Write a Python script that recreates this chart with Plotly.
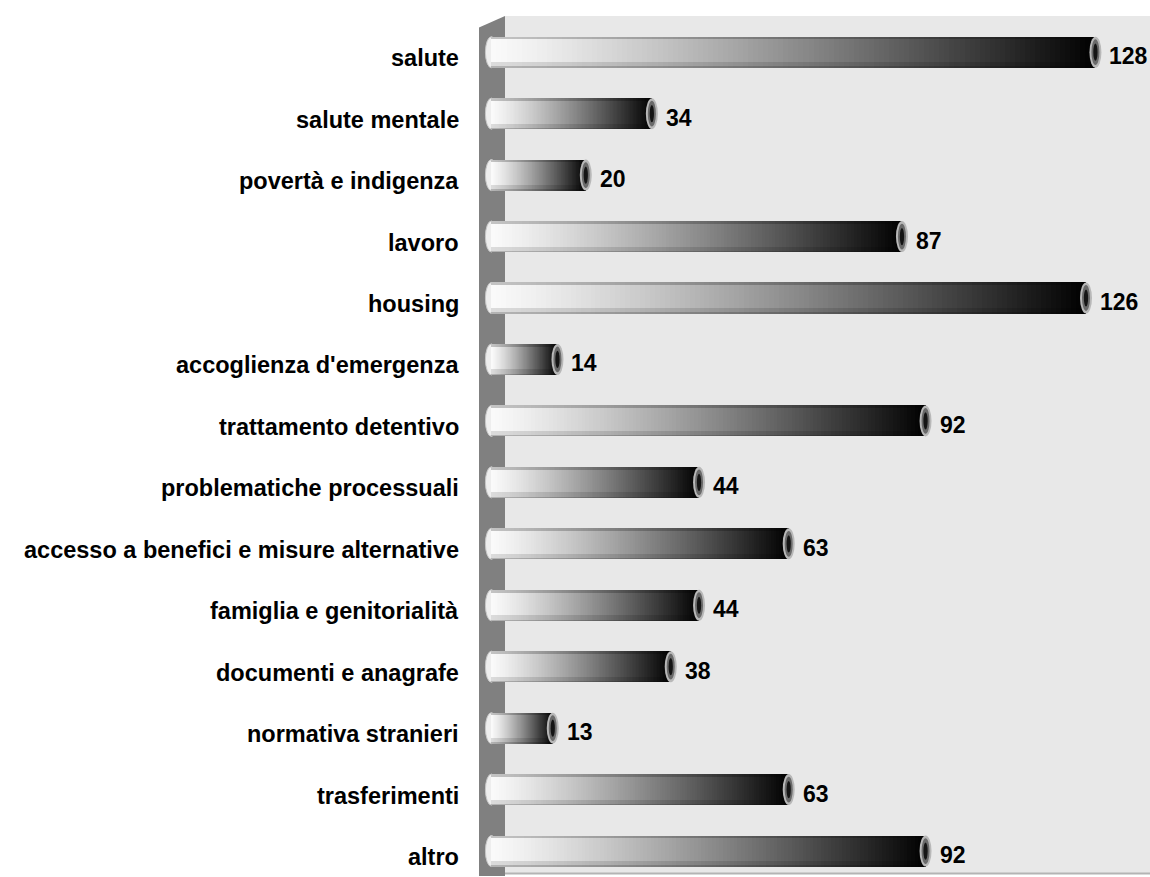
import plotly.graph_objects as go

categories = ["salute", "salute mentale", "povertà e indigenza", "lavoro", "housing",
              "accoglienza d'emergenza", "trattamento detentivo", "problematiche processuali",
              "accesso a benefici e misure alternative", "famiglia e genitorialità",
              "documenti e anagrafe", "normativa stranieri", "trasferimenti", "altro"]
values = [128, 34, 20, 87, 126, 14, 92, 44, 63, 44, 38, 13, 63, 92]

N = 120
BW = 0.505
fig = go.Figure()

# gradient along each bar: overlay of progressively shorter bars, dark -> light
for k in range(N):
    f = (N - k - 0.5) / N
    g = int(round(250 * (1 - f ** 1.2)))
    fig.add_trace(go.Bar(
        x=[v * (N - k) / N for v in values], y=categories, orientation="h",
        width=BW, marker=dict(color=f"rgb({g},{g},{g})", line=dict(width=0)),
        hoverinfo="skip", showlegend=False))

# cylinder shading (top and bottom edges)
fig.add_trace(go.Bar(x=values, y=categories, orientation="h", width=0.045, offset=-BW / 2,
                     marker=dict(color="rgba(0,0,0,0.22)", line=dict(width=0)),
                     hoverinfo="skip", showlegend=False))
fig.add_trace(go.Bar(x=values, y=categories, orientation="h", width=0.09, offset=BW / 2 - 0.09,
                     marker=dict(color="rgba(0,0,0,0.12)", line=dict(width=0)),
                     hoverinfo="skip", showlegend=False))
fig.add_trace(go.Bar(x=values, y=categories, orientation="h", width=0.02, offset=BW / 2 - 0.02,
                     marker=dict(color="rgba(0,0,0,0.18)", line=dict(width=0)),
                     hoverinfo="skip", showlegend=False))

shapes = []
# back wall and left side wall (paper coords; plot area is x 479..1150 px, y 0..877 px)
W, H, L = 1150 - 479, 877, 479
def px(xp):
    return (xp - L) / W
def py(yp):
    return 1 - yp / H
shapes.append(dict(type="rect", xref="paper", yref="paper", x0=px(505), x1=px(1160), y0=py(873), y1=py(16),
                   fillcolor="#e8e8e8", line=dict(width=0), layer="below"))
shapes.append(dict(type="line", xref="paper", yref="paper", x0=px(505), x1=px(1160), y0=py(873.5), y1=py(873.5),
                   line=dict(color="#b4b4b4", width=2), layer="below"))
shapes.append(dict(type="path", xref="paper", yref="paper",
                   path=f"M {px(479)},{py(27.5)} L {px(505)},{py(16)} L {px(505)},{py(876)} L {px(479)},{py(876)} Z",
                   fillcolor="#808080", line=dict(width=0), layer="below"))

CAPX = 1.27
for i, v in enumerate(values):
    # left rounded end
    shapes.append(dict(type="circle", xref="x", yref="y", x0=-CAPX, x1=CAPX,
                       y0=i - BW / 2, y1=i + BW / 2, fillcolor="#eeeeee",
                       line=dict(color="#c8c8c8", width=1), layer="below"))
    # right end cap
    shapes.append(dict(type="circle", xref="x", yref="y", x0=v - CAPX, x1=v + CAPX,
                       y0=i - BW / 2, y1=i + BW / 2, fillcolor="#b8b8b8",
                       line=dict(width=0), layer="above"))
    shapes.append(dict(type="circle", xref="x", yref="y", x0=v - 0.85, x1=v + 0.85,
                       y0=i - 0.21, y1=i + 0.21, fillcolor="#6a6a6a",
                       line=dict(width=0), layer="above"))
    shapes.append(dict(type="circle", xref="x", yref="y", x0=v - 0.45, x1=v + 0.45,
                       y0=i - 0.14, y1=i + 0.14, fillcolor="#151515",
                       line=dict(width=0), layer="above"))

annotations = []
for i, (c, v) in enumerate(zip(categories, values)):
    annotations.append(dict(x=v, y=i, xref="x", yref="y", text=f"<b>{v}</b>", showarrow=False,
                            xanchor="left", xshift=12, yshift=-4,
                            font=dict(family="Liberation Sans", size=23, color="#000")))
    annotations.append(dict(x=0, y=i, xref="paper", yref="y", text=f"<b>{c}</b>", showarrow=False,
                            xanchor="right", xshift=-18, yshift=-6,
                            font=dict(family="Liberation Sans", size=23.5, color="#000")))

fig.update_layout(
    width=1150, height=877,
    margin=dict(l=479, r=0, t=0, b=0),
    paper_bgcolor="white", plot_bgcolor="white",
    barmode="overlay", bargap=0,
    shapes=shapes, annotations=annotations,
    xaxis=dict(range=[(479 - 491.4) / 4.719, (1150 - 491.4) / 4.719], visible=False, fixedrange=True),
    yaxis=dict(type="category", categoryorder="array", categoryarray=categories,
               range=[(877 - 52.2) / 61.45, -52.2 / 61.45], showticklabels=False,
               showgrid=False, zeroline=False, showline=False, ticks=""),
    showlegend=False,
)

fig.write_html("out.html")
